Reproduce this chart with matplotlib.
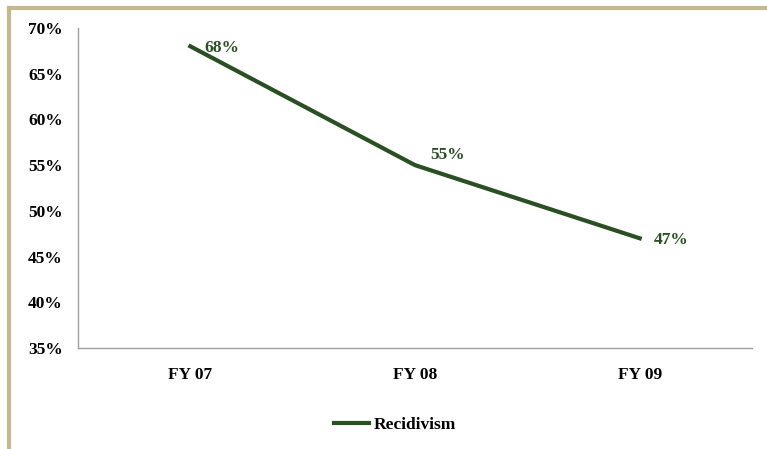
import matplotlib.pyplot as plt
from matplotlib.lines import Line2D
from matplotlib.ticker import FuncFormatter

# data
years = ["FY 07", "FY 08", "FY 09"]
recidivism = [68, 55, 47]
yticks = [35, 40, 45, 50, 55, 60, 65, 70]

plt.rcParams['font.family'] = ['Liberation Serif', 'DejaVu Serif']
plt.rcParams['font.weight'] = 'bold'

green = '#2a4f22'
border = '#c4b98d'

fig = plt.figure(figsize=(7.67, 4.49), dpi=100)
ax = fig.add_axes([78/767, 1 - 348/449, 674/767, 320/449])

xs = [i + 0.5 for i in range(len(years))]
ax.plot(xs, recidivism, '-', color=green, lw=3, label='Recidivism')
offsets = [(10, -1), (11, 7), (10, -1)]
for x, v, off in zip(xs, recidivism, offsets):
    ax.annotate(f"{v}%", (x, v), xytext=off,
                textcoords='offset points', color=green, fontsize=12.5,
                fontweight='bold', va='center', ha='left')

ax.set_xlim(0, 3)
ax.set_ylim(35, 70)
ax.set_xticks(xs)
ax.set_xticklabels(years)
ax.set_yticks(yticks)
ax.yaxis.set_major_formatter(FuncFormatter(lambda v, p: f"{v:.0f}%"))
ax.tick_params(length=0, labelsize=12.5)
ax.tick_params(axis='y', pad=11)
ax.tick_params(axis='x', pad=14)
for s in ['top', 'right']:
    ax.spines[s].set_visible(False)
for s in ['left', 'bottom']:
    ax.spines[s].set_color('#a0a0a0')
    ax.spines[s].set_linewidth(1)

leg = fig.legend(handles=[Line2D([], [], color=green, lw=3)], labels=['Recidivism'],
                 loc='center', bbox_to_anchor=(395/767, 1 - 425/449), frameon=False,
                 fontsize=12.5, handlelength=2.0, handletextpad=0.3)

# tan frame on top and left
fig.add_artist(Line2D([9/767, 1], [1 - 8/449] * 2, color=border, lw=3, transform=fig.transFigure))
fig.add_artist(Line2D([9/767] * 2, [0, 1 - 8/449], color=border, lw=3, transform=fig.transFigure))

fig.savefig('out.png', dpi=100)
